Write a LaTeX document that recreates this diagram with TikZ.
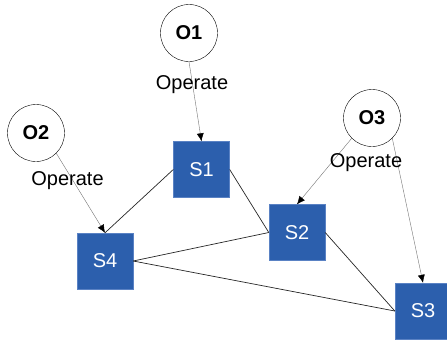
\documentclass[tikz,border=0pt]{standalone}
\usepackage{fontspec}
\setmainfont{Liberation Sans}
\usetikzlibrary{arrows.meta,positioning}
\definecolor{sysblue}{HTML}{2C5FAD}
\definecolor{sysedge}{HTML}{5A82C4}

\begin{document}
\begin{tikzpicture}[x=1pt,y=-1pt,
      oper/.style={circle, draw=black, fill=white, inner sep=0pt, minimum size=57pt, font=\fontsize{20}{24}\selectfont\bfseries},
      sys/.style={rectangle, fill=sysblue, draw=sysedge, line width=0.4pt, inner sep=0pt, minimum size=56pt, text=white, font=\fontsize{20}{24}\selectfont},
      lbl/.style={inner sep=0pt, font=\fontsize{20}{24}\selectfont},
      pfeil/.style={draw=black!55, line width=0.4pt, -{Latex[length=8pt,width=7pt,color=black]}},
      link/.style={draw=black!85, line width=0.7pt}]

\useasboundingbox (0,0) rectangle (447,341);

\node[oper] (o1) at (189,33) {O1};
\node[oper] (o2) at (36,133) {O2};
\node[oper] (o3) at (372,118) {O3};
\node[sys] (s1) at (201.5,169.5) {S1};
\node[sys] (s2) at (297,232.5) {S2};
\node[sys] (s3) at (423,311) {S3};
\node[sys] (s4) at (105,261) {S4};

\draw[link] (s1.west) -- (s4.north);
\draw[link] (s1.east) -- (s2.west);
\draw[link] (s4.east) -- (s2.west);
\draw[link] (s4.east) -- (s3.west);
\draw[link] (s2.east) -- (s3.west);

\draw[pfeil] (o1.south) -- (s1.north);
\draw[pfeil] (o2.-45) -- (s4.north);
\draw[pfeil] (o3.-135) -- (s2.north);
\draw[pfeil] (o3.-45) -- (s3.north);

\node[lbl] (l1) at (192,85) {Operate};
\node[lbl] (l2) at (67.5,180.5) {Operate};
\node[lbl] (l3) at (366,163) {Operate};

\end{tikzpicture}
\end{document}
